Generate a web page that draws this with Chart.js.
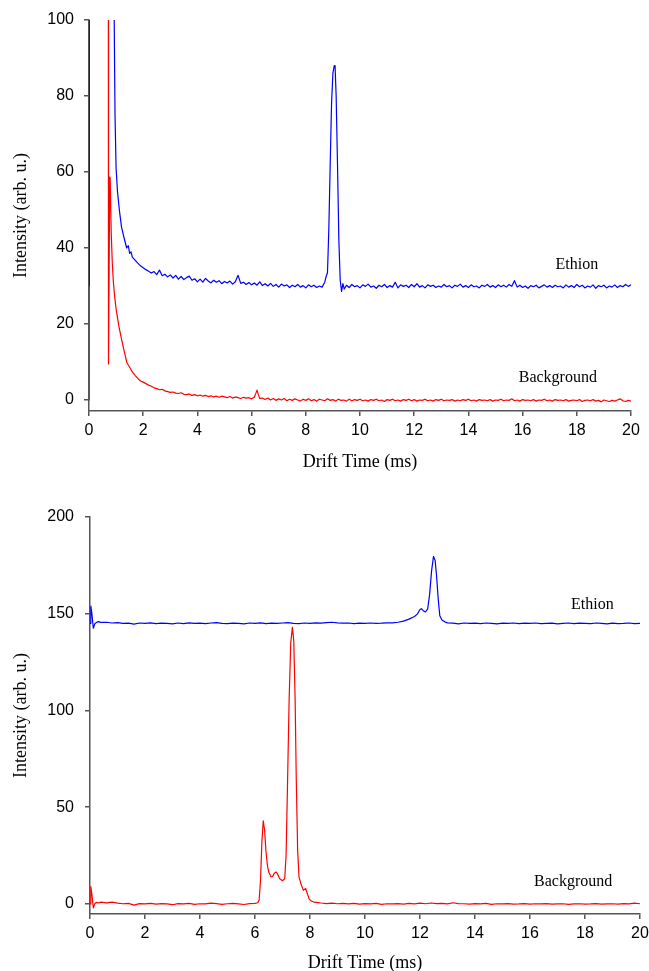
<!DOCTYPE html>
<html>
<head>
<meta charset="utf-8">
<script src="https://cdn.jsdelivr.net/npm/chart.js@4.4.1/dist/chart.umd.min.js"></script>
<style>
  html, body { margin: 0; padding: 0; background: #fff; overflow: hidden; }
  #topChart { position: absolute; left: 0; top: 0; }
  #bottomChart { position: absolute; left: 0; top: 490px; }
</style>
</head>
<body>
<canvas id="topChart" width="649" height="490"></canvas>
<canvas id="bottomChart" width="649" height="485"></canvas>
<script>
// series names (also used as the labels next to each trace)
const seriesNames = ['Ethion', 'Background'];

// tick labels
const xTicks = [0, 2, 4, 6, 8, 10, 12, 14, 16, 18, 20];
const yTicksTop = [0, 20, 40, 60, 80, 100];
const yTicksBottom = [0, 50, 100, 150, 200];

// upper panel, [drift time (ms), intensity]
const topEthion = [
  [0, 30], [0.01, 160], [0.91, 160], [0.93, 100], [0.96, 75], [1.0, 61], [1.05, 55], [1.12, 50],
  [1.2, 45.5], [1.3, 42.5], [1.39, 40], [1.45, 40.6], [1.5, 38.6], [1.55, 39.0], [1.6, 37.6],
  [1.7, 36.8], [1.8, 36.0], [1.9, 35.3], [2.0, 34.8], [2.1, 34.3],
  [2.2, 33.9], [2.3, 33.4], [2.4, 33.8], [2.5, 33.0], [2.6, 34.2], [2.7, 32.7], [2.8, 33.1], [2.9, 32.4],
  [3.0, 32.9], [3.1, 32.1], [3.2, 32.8], [3.3, 31.8], [3.4, 32.5], [3.5, 31.7], [3.6, 32.2], [3.7, 32.6],
  [3.8, 31.5], [3.9, 31.9], [4.0, 31.1], [4.1, 31.8], [4.2, 31.0], [4.3, 32.0], [4.4, 31.3], [4.5, 30.8],
  [4.6, 31.5], [4.7, 31.0], [4.8, 31.4], [4.9, 30.6], [5.0, 31.2], [5.1, 30.8], [5.2, 31.3], [5.3, 30.5],
  [5.4, 31.1], [5.5, 32.8], [5.6, 30.7], [5.7, 31.0], [5.8, 30.4], [5.9, 30.9], [6.0, 30.3], [6.1, 30.8],
  [6.2, 30.2], [6.3, 31.1], [6.4, 30.1], [6.5, 30.6], [6.6, 30.0], [6.7, 30.7], [6.8, 29.9], [6.9, 30.4],
  [7.0, 29.7], [7.1, 30.5], [7.2, 30.0], [7.3, 30.3], [7.4, 29.6], [7.5, 30.2], [7.6, 29.8], [7.7, 30.4],
  [7.8, 29.7], [7.9, 30.1], [8.0, 29.5], [8.1, 30.3], [8.2, 29.8], [8.3, 30.2], [8.4, 29.6], [8.5, 30.0],
  [8.6, 29.7], [8.7, 31.0], [8.75, 32.5], [8.8, 33.5], [8.85, 45], [8.9, 62], [8.95, 78], [9.0, 86],
  [9.05, 88], [9.08, 88], [9.12, 80], [9.17, 62], [9.22, 42], [9.27, 31.5], [9.32, 28.6], [9.37, 30.6],
  [9.42, 29.2], [9.5, 30.2], [9.6, 29.6], [9.7, 30.4], [9.8, 29.8], [9.9, 30.1], [10.0, 29.5], [10.1, 30.3],
  [10.2, 29.9], [10.3, 30.5], [10.4, 29.7], [10.5, 30.0], [10.6, 29.4], [10.7, 30.2], [10.8, 29.8], [10.9, 30.4],
  [11.0, 29.6], [11.1, 30.1], [11.2, 29.7], [11.3, 31.0], [11.4, 29.5], [11.5, 30.3], [11.6, 29.9], [11.7, 30.2],
  [11.8, 29.6], [11.9, 30.4], [12.0, 29.8], [12.1, 30.6], [12.2, 29.7], [12.3, 30.1], [12.4, 29.5], [12.5, 30.3],
  [12.6, 29.9], [12.7, 30.2], [12.8, 29.6], [12.9, 30.0], [13.0, 29.7], [13.1, 30.4], [13.2, 29.8], [13.3, 30.1],
  [13.4, 29.5], [13.5, 30.2], [13.6, 29.9], [13.7, 30.5], [13.8, 29.7], [13.9, 30.1], [14.0, 29.6], [14.1, 30.3],
  [14.2, 29.8], [14.3, 30.0], [14.4, 29.5], [14.5, 30.2], [14.6, 29.9], [14.7, 30.4], [14.8, 29.7], [14.9, 30.1],
  [15.0, 29.6], [15.1, 30.3], [15.2, 29.8], [15.3, 30.2], [15.4, 29.7], [15.5, 30.4], [15.6, 29.9], [15.7, 31.4],
  [15.8, 29.7], [15.9, 30.2], [16.0, 29.6], [16.1, 30.0], [16.2, 29.4], [16.3, 30.1], [16.4, 29.8], [16.5, 30.2],
  [16.6, 29.5], [16.7, 29.9], [16.8, 30.3], [16.9, 29.7], [17.0, 30.1], [17.1, 29.6], [17.2, 30.2], [17.3, 29.8],
  [17.4, 30.0], [17.5, 29.5], [17.6, 30.3], [17.7, 29.7], [17.8, 30.1], [17.9, 29.6], [18.0, 30.4], [18.1, 29.8],
  [18.2, 30.2], [18.3, 29.5], [18.4, 30.0], [18.5, 29.7], [18.6, 30.3], [18.7, 29.4], [18.8, 30.1], [18.9, 29.8],
  [19.0, 30.2], [19.1, 29.5], [19.2, 30.0], [19.3, 29.7], [19.4, 30.3], [19.5, 29.6], [19.6, 30.1], [19.7, 29.8],
  [19.8, 30.4], [19.9, 29.9], [20.0, 30.3]
];

const topBackground = [
  [0, 0], [0.01, 160], [0.71, 160], [0.72, 9.5], [0.765, 58.7], [0.78, 58.5], [0.82, 44], [0.86, 36],
  [0.9, 31], [0.95, 27], [1.0, 24], [1.1, 19.5], [1.2, 16], [1.3, 12.8], [1.4, 9.8], [1.5, 8.6],
  [1.6, 7.4], [1.7, 6.5], [1.8, 5.7], [1.9, 5.0], [2.0, 4.7], [2.1, 4.3], [2.2, 3.9], [2.3, 3.6],
  [2.4, 3.2], [2.5, 3.0], [2.6, 2.7], [2.7, 2.8], [2.8, 2.4], [2.9, 2.2], [3.0, 2.0], [3.1, 2.1],
  [3.2, 1.8], [3.3, 1.7], [3.4, 1.9], [3.5, 1.5], [3.6, 1.4], [3.7, 1.6], [3.8, 1.2], [3.9, 1.4],
  [4.0, 1.1], [4.1, 1.3], [4.2, 1.0], [4.3, 1.2], [4.4, 0.9], [4.5, 1.1], [4.6, 0.8], [4.7, 1.0],
  [4.8, 0.7], [4.9, 1.0], [5.0, 0.8], [5.1, 0.6], [5.2, 0.9], [5.3, 0.5], [5.4, 0.8], [5.5, 0.6],
  [5.6, 0.4], [5.7, 0.7], [5.8, 0.5], [5.9, 0.6], [6.0, 0.3], [6.1, 0.7], [6.15, 1.6], [6.2, 2.6],
  [6.25, 1.4], [6.3, 0.4], [6.4, 0.5], [6.5, 0.1], [6.6, 0.5], [6.7, 0.0], [6.8, 0.4], [6.9, -0.1],
  [7.0, 0.3], [7.1, 0.0], [7.2, 0.4], [7.3, -0.2], [7.4, 0.2], [7.5, -0.1], [7.6, 0.3], [7.7, 0.0],
  [7.8, -0.3], [7.9, 0.2], [8.0, -0.1], [8.1, 0.3], [8.2, -0.2], [8.3, 0.1], [8.4, -0.3], [8.5, 0.2],
  [8.6, 0.0], [8.7, -0.2], [8.8, 0.3], [8.9, -0.1], [9.0, 0.1], [9.1, -0.3], [9.2, 0.2], [9.3, -0.1],
  [9.4, 0.0], [9.5, -0.3], [9.6, 0.2], [9.7, -0.2], [9.8, 0.1], [9.9, -0.1], [10.0, 0.2], [10.1, -0.2],
  [10.2, 0.0], [10.3, -0.3], [10.4, 0.1], [10.5, -0.1], [10.6, 0.2], [10.7, -0.2], [10.8, 0.0], [10.9, -0.4],
  [11.0, 0.1], [11.1, -0.1], [11.2, 0.2], [11.3, -0.2], [11.4, 0.0], [11.5, -0.3], [11.6, 0.1], [11.7, -0.1],
  [11.8, 0.2], [11.9, -0.2], [12.0, 0.1], [12.1, -0.3], [12.2, 0.0], [12.3, -0.1], [12.4, 0.2], [12.5, -0.2],
  [12.6, 0.0], [12.7, -0.3], [12.8, 0.1], [12.9, -0.1], [13.0, 0.2], [13.1, -0.2], [13.2, 0.0], [13.3, -0.1],
  [13.4, 0.1], [13.5, -0.3], [13.6, 0.0], [13.7, -0.2], [13.8, 0.1], [13.9, -0.1], [14.0, 0.2], [14.1, -0.2],
  [14.2, 0.0], [14.3, -0.3], [14.4, 0.1], [14.5, -0.1], [14.6, 0.0], [14.7, -0.2], [14.8, 0.1], [14.9, -0.3],
  [15.0, 0.0], [15.1, -0.1], [15.2, 0.2], [15.3, -0.2], [15.4, 0.0], [15.5, -0.1], [15.6, 0.3], [15.7, -0.2],
  [15.8, 0.0], [15.9, -0.3], [16.0, 0.1], [16.1, -0.1], [16.2, 0.0], [16.3, -0.2], [16.4, 0.1], [16.5, -0.3],
  [16.6, 0.0], [16.7, -0.1], [16.8, 0.2], [16.9, -0.2], [17.0, 0.0], [17.1, -0.3], [17.2, 0.1], [17.3, -0.1],
  [17.4, 0.0], [17.5, -0.2], [17.6, 0.1], [17.7, -0.3], [17.8, -0.1], [17.9, 0.0], [18.0, -0.2], [18.1, 0.1],
  [18.2, -0.4], [18.3, -0.1], [18.4, 0.0], [18.5, -0.2], [18.6, 0.1], [18.7, -0.3], [18.8, -0.1], [18.9, -0.5],
  [19.0, 0.0], [19.1, -0.2], [19.2, -0.4], [19.3, -0.1], [19.4, -0.3], [19.5, 0.0], [19.6, 0.3], [19.7, -0.2],
  [19.8, -0.4], [19.9, -0.1], [20.0, -0.3]
];

// lower panel
const bottomEthion = [
  [0, 145], [0.03, 154], [0.07, 150], [0.12, 142.5], [0.18, 145], [0.25, 145.6], [0.3, 145.9], [0.4, 145.5],
  [0.6, 145.6], [0.8, 145.2], [1.0, 145.4], [1.2, 145.0], [1.4, 145.1], [1.6, 144.6], [1.8, 145.2], [2.0, 145.0],
  [2.2, 145.3], [2.4, 144.9], [2.6, 145.1], [2.8, 145.0], [3.0, 144.8], [3.2, 145.2], [3.4, 144.9], [3.6, 145.3],
  [3.8, 145.0], [4.0, 145.1], [4.2, 144.9], [4.4, 145.2], [4.6, 145.4], [4.8, 145.0], [5.0, 144.9], [5.2, 145.1],
  [5.4, 145.0], [5.6, 144.8], [5.8, 145.2], [6.0, 145.0], [6.2, 145.3], [6.4, 144.9], [6.6, 145.1], [6.8, 145.0],
  [7.0, 145.2], [7.2, 145.4], [7.4, 145.0], [7.6, 144.9], [7.8, 145.2], [8.0, 145.0], [8.2, 145.3], [8.4, 145.1],
  [8.6, 145.4], [8.8, 145.6], [9.0, 145.3], [9.2, 145.1], [9.4, 145.2], [9.6, 144.9], [9.8, 145.1], [10.0, 145.0],
  [10.2, 145.2], [10.4, 145.0], [10.6, 145.1], [10.8, 145.3], [11.0, 145.3], [11.2, 145.6], [11.4, 146.2], [11.6, 147.2],
  [11.8, 148.6], [11.9, 149.8], [12.0, 152.2], [12.05, 152.6], [12.12, 151.6], [12.2, 150.9], [12.28, 152.5], [12.35, 160],
  [12.42, 172], [12.49, 179.6], [12.55, 177.5], [12.6, 170], [12.66, 158], [12.72, 149], [12.8, 146.8], [12.9, 145.8],
  [13.0, 145.3], [13.2, 145.1], [13.4, 144.8], [13.6, 145.2], [13.8, 145.0], [14.0, 145.1], [14.2, 144.9], [14.4, 145.2],
  [14.6, 145.0], [14.8, 144.8], [15.0, 145.1], [15.2, 145.0], [15.4, 145.2], [15.6, 144.9], [15.8, 145.1], [16.0, 145.0],
  [16.2, 145.2], [16.4, 144.9], [16.6, 145.0], [16.8, 145.1], [17.0, 144.8], [17.2, 145.0], [17.4, 145.2], [17.6, 144.9],
  [17.8, 145.1], [18.0, 145.0], [18.2, 144.9], [18.4, 145.2], [18.6, 145.0], [18.8, 144.8], [19.0, 145.1], [19.2, 144.9],
  [19.4, 145.0], [19.6, 145.2], [19.8, 144.9], [20.0, 145.0]
];

const bottomBackground = [
  [0, 0], [0.03, 9], [0.07, 5], [0.12, -2], [0.18, 0.3], [0.25, 0.8], [0.3, 0.5], [0.4, 0.9],
  [0.6, 0.6], [0.8, 0.9], [1.0, 0.4], [1.2, 0.1], [1.4, 0.3], [1.6, -0.6], [1.8, 0.2], [2.0, 0.0],
  [2.2, 0.3], [2.4, -0.1], [2.6, 0.2], [2.8, 0.0], [3.0, -0.4], [3.2, 0.2], [3.4, 0.0], [3.6, 0.3],
  [3.8, -0.2], [4.0, 0.1], [4.2, 0.0], [4.4, 0.4], [4.6, 0.2], [4.8, -0.2], [5.0, 0.1], [5.2, 0.3],
  [5.4, 0.0], [5.6, -0.3], [5.8, 0.2], [6.0, 0.3], [6.1, 0.6], [6.15, 2], [6.2, 12], [6.25, 32],
  [6.3, 43], [6.35, 38], [6.4, 27], [6.45, 20], [6.5, 16.5], [6.58, 14], [6.64, 14.2], [6.7, 15.8],
  [6.76, 16.6], [6.82, 15.5], [6.9, 13], [7.0, 12], [7.08, 13], [7.13, 25], [7.18, 60], [7.24, 105],
  [7.3, 135], [7.36, 143], [7.41, 136], [7.46, 105], [7.5, 65], [7.55, 28], [7.6, 14], [7.68, 10],
  [7.76, 7], [7.84, 8], [7.9, 5.5], [7.97, 2.5], [8.05, 1.5], [8.15, 0.9], [8.3, 0.7], [8.4, 0.5],
  [8.6, 0.2], [8.8, 0.4], [9.0, 0.1], [9.2, 0.3], [9.4, 0.0], [9.6, 0.3], [9.8, -0.1], [10.0, 0.2],
  [10.2, 0.0], [10.4, 0.3], [10.6, -0.2], [10.8, 0.1], [11.0, 0.0], [11.2, 0.2], [11.4, -0.1], [11.6, 0.3],
  [11.8, 0.0], [12.0, 0.4], [12.2, 0.1], [12.4, 0.5], [12.6, 0.2], [12.8, 0.3], [13.0, 0.0], [13.2, 0.6],
  [13.4, 0.2], [13.6, 0.1], [13.8, -0.1], [14.0, 0.2], [14.2, 0.0], [14.4, 0.3], [14.6, -0.2], [14.8, 0.1],
  [15.0, 0.0], [15.2, 0.2], [15.4, -0.1], [15.6, 0.0], [15.8, 0.2], [16.0, -0.1], [16.2, 0.1], [16.4, 0.0],
  [16.6, 0.2], [16.8, -0.1], [17.0, 0.0], [17.2, 0.1], [17.4, -0.2], [17.6, 0.0], [17.8, 0.1], [18.0, -0.1],
  [18.2, 0.0], [18.4, 0.2], [18.6, -0.1], [18.8, 0.0], [19.0, 0.1], [19.2, -0.1], [19.4, 0.2], [19.6, 0.0],
  [19.8, 0.4], [20.0, 0.1]
];

const axisColor = '#555';
const tickFont = { family: '"Liberation Sans", Arial, sans-serif', size: 16 };
const titleFont = { family: '"Liberation Serif", "Times New Roman", serif', size: 18 };

// draws the trace names next to each curve, at a data position
const notesPlugin = {
  id: 'notes',
  afterDatasetsDraw(chart, args, opts) {
    const { ctx, scales: { x, y } } = chart;
    ctx.save();
    ctx.font = '16px "Liberation Serif", "Times New Roman", serif';
    ctx.fillStyle = '#000';
    ctx.textAlign = 'center';
    ctx.textBaseline = 'middle';
    opts.items.forEach(n => ctx.fillText(n.text, x.getPixelForValue(n.x), y.getPixelForValue(n.y)));
    ctx.restore();
  }
};

function traceDataset(name, points, color) {
  return {
    label: name,
    data: points.map(p => ({ x: p[0], y: p[1] })),
    borderColor: color,
    borderWidth: 1.2,
    pointRadius: 0,
    tension: 0,
    borderJoinStyle: 'round',
    fill: false
  };
}

function makeChart(id, ethion, background, cfg) {
  const ctx = document.getElementById(id).getContext('2d');
  return new Chart(ctx, {
    type: 'line',
    data: {
      datasets: [
        traceDataset(seriesNames[0], ethion, '#0000ff'),
        traceDataset(seriesNames[1], background, '#ff0000')
      ]
    },
    options: {
      responsive: false,
      animation: false,
      events: [],
      layout: { padding: cfg.padding },
      plugins: {
        legend: { display: false },
        tooltip: { enabled: false },
        notes: { items: cfg.notes }
      },
      scales: {
        x: {
          type: 'linear',
          min: 0,
          max: 20,
          afterBuildTicks: scale => { scale.ticks = xTicks.map(v => ({ value: v })); },
          // fixed axis box so the plot area lands where the original has it
          afterFit: scale => {
            scale.height = cfg.xHeight;
            scale.paddingLeft = 0;
            scale.paddingRight = 0;
          },
          grid: { drawOnChartArea: false, drawTicks: true, tickLength: 5, color: axisColor, lineWidth: 1.5 },
          border: { display: true, color: axisColor, width: 1.5 },
          ticks: { color: '#000', font: tickFont, padding: 5, maxRotation: 0 },
          title: {
            display: true, text: 'Drift Time (ms)', color: '#000', font: titleFont,
            padding: { top: 0, bottom: cfg.xTitlePad }
          }
        },
        y: {
          type: 'linear',
          min: cfg.yMin,
          max: cfg.yMax,
          afterBuildTicks: scale => { scale.ticks = cfg.yTicks.map(v => ({ value: v })); },
          afterFit: scale => {
            scale.width = cfg.yWidth;
            scale.paddingTop = 0;
            scale.paddingBottom = 0;
          },
          grid: { drawOnChartArea: false, drawTicks: true, tickLength: 5, color: axisColor, lineWidth: 1.5 },
          border: { display: true, color: axisColor, width: 1.5 },
          ticks: { color: '#000', font: tickFont, padding: cfg.yTickPad },
          title: {
            display: true, text: 'Intensity (arb. u.)', color: '#000', font: titleFont,
            padding: { top: 10, bottom: 0 }
          }
        }
      }
    },
    plugins: [notesPlugin]
  });
}

makeChart('topChart', topEthion, topBackground, {
  padding: { top: 20, right: 18, bottom: 0, left: 0 },
  xHeight: 79,
  yWidth: 89,
  yMin: -2.9,
  yMax: 100,
  yTicks: yTicksTop,
  yTickPad: 10,
  xTitlePad: 17,
  notes: [
    { text: seriesNames[0], x: 18.0, y: 35.5 },
    { text: seriesNames[1], x: 17.3, y: 5.9 }
  ]
});

makeChart('bottomChart', bottomEthion, bottomBackground, {
  padding: { top: 27, right: 9, bottom: 0, left: 0 },
  xHeight: 61,
  yWidth: 90,
  yMin: -5.2,
  yMax: 200,
  yTicks: yTicksBottom,
  yTickPad: 11,
  xTitlePad: 1,
  notes: [
    { text: seriesNames[0], x: 18.27, y: 154.4 },
    { text: seriesNames[1], x: 17.57, y: 11.4 }
  ]
});
</script>
</body>
</html>
